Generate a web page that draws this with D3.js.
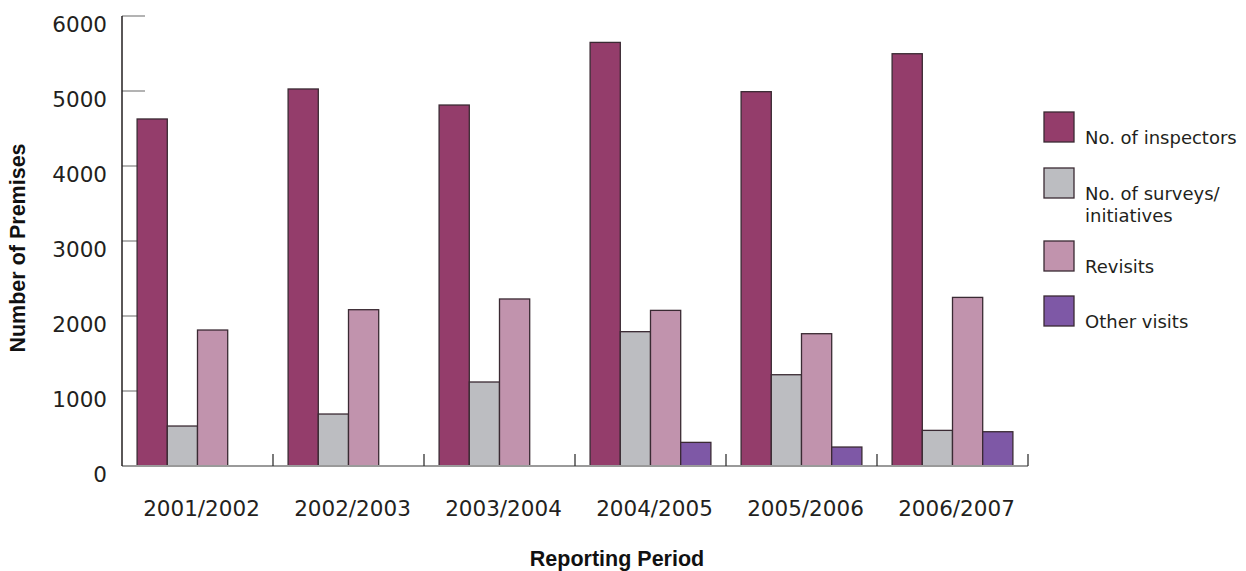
<!DOCTYPE html>
<html>
<head>
<meta charset="utf-8">
<script src="https://cdn.jsdelivr.net/npm/d3@7"></script>
<style>
  html, body { margin: 0; padding: 0; background: #fff; }
  svg { display: block; }
</style>
</head>
<body>
<svg id="chart" width="1246" height="571"></svg>
<script>
// Reporting periods along the x axis
const periods = ["2001/2002", "2002/2003", "2003/2004", "2004/2005", "2005/2006", "2006/2007"];

// Series names (legend order)
const seriesNames = ["No. of inspectors", "No. of surveys/initiatives", "Revisits", "Other visits"];

// Values per series, one per period
const inspectors = [4627, 5027, 4813, 5648, 4991, 5497];
const surveys    = [533, 693, 1120, 1791, 1217, 475];
const revisits   = [1813, 2084, 2227, 2075, 1764, 2248];
const otherVisits = [0, 0, 0, 315, 253, 457];

// Y axis ticks
const yTicks = [0, 1000, 2000, 3000, 4000, 5000, 6000];

const seriesValues = [inspectors, surveys, revisits, otherVisits];
const colors = ["#943d6b", "#bcbdc1", "#c193ad", "#7e58a6"];

const svg = d3.select("#chart");
const plotLeft = 122, plotRight = 1028, plotTop = 16, plotBottom = 466;

const y = d3.scaleLinear().domain([0, 6000]).range([plotBottom, plotTop]);
const x0 = d3.scaleBand().domain(periods).range([plotLeft, plotRight]).paddingInner(0).paddingOuter(0);
const x1 = d3.scaleBand().domain(d3.range(seriesNames.length))
  .range([0, x0.bandwidth()]).paddingInner(0).paddingOuter(0.5);

const tickFont = "'DejaVu Sans', sans-serif";

// Y tick marks (short grey stubs drawn under the bars)
svg.append("g").selectAll("line").data(yTicks).join("line")
  .attr("x1", plotLeft).attr("x2", plotLeft + 23)
  .attr("y1", d => y(d)).attr("y2", d => y(d))
  .attr("stroke", "#9a9a9a").attr("stroke-width", 1.5);

// Y tick labels
svg.append("g").selectAll("text").data(yTicks).join("text")
  .attr("x", 107).attr("y", d => y(d) + 16)
  .attr("text-anchor", "end")
  .attr("font-family", tickFont).attr("font-size", 21.5)
  .attr("fill", "#231f20")
  .text(d => d);

// Bars
const rows = periods.map((p, i) => ({ period: p, values: seriesValues.map(s => s[i]) }));
const groups = svg.append("g").selectAll("g").data(rows).join("g")
  .attr("transform", d => `translate(${x0(d.period)},0)`);
groups.selectAll("rect")
  .data(d => d.values.map((v, k) => ({ k, v })).filter(e => e.v > 0))
  .join("rect")
  .attr("x", e => x1(e.k))
  .attr("width", x1.bandwidth())
  .attr("y", e => y(e.v))
  .attr("height", e => y(0) - y(e.v))
  .attr("fill", e => colors[e.k])
  .attr("stroke", "#3a2a33").attr("stroke-width", 1.3);

// Baseline
svg.append("line")
  .attr("x1", plotLeft).attr("x2", plotRight).attr("y1", plotBottom).attr("y2", plotBottom)
  .attr("stroke", "#9a9a9a").attr("stroke-width", 2);

// Group separator ticks
svg.append("g").selectAll("line").data(periods).join("line")
  .attr("x1", d => x0(d) + x0.bandwidth()).attr("x2", d => x0(d) + x0.bandwidth())
  .attr("y1", plotBottom).attr("y2", plotBottom - 12)
  .attr("stroke", "#333").attr("stroke-width", 1.3);

// Y axis line
svg.append("line")
  .attr("x1", plotLeft).attr("x2", plotLeft).attr("y1", plotTop).attr("y2", plotBottom)
  .attr("stroke", "#231f20").attr("stroke-width", 1.5);

// Category labels
svg.append("g").selectAll("text").data(periods).join("text")
  .attr("x", d => x0(d) + x0.bandwidth() / 2 + 4)
  .attr("y", 516)
  .attr("text-anchor", "middle")
  .attr("font-family", tickFont).attr("font-size", 21.5)
  .attr("fill", "#231f20")
  .text(d => d);

// Axis titles
svg.append("text")
  .attr("x", 617).attr("y", 566)
  .attr("text-anchor", "middle")
  .attr("font-family", "'Liberation Sans', Arial, sans-serif")
  .attr("font-weight", "bold").attr("font-size", 21.5)
  .attr("fill", "#111")
  .text("Reporting Period");

svg.append("text")
  .attr("transform", "translate(25,248) rotate(-90)")
  .attr("text-anchor", "middle")
  .attr("font-family", "'Liberation Sans', Arial, sans-serif")
  .attr("font-weight", "bold").attr("font-size", 21.5)
  .attr("fill", "#111")
  .text("Number of Premises");

// Legend
const legendItems = [
  { k: 0, y: 112, lines: ["No. of inspectors"] },
  { k: 1, y: 168, lines: ["No. of surveys/", "initiatives"] },
  { k: 2, y: 241, lines: ["Revisits"] },
  { k: 3, y: 296, lines: ["Other visits"] }
];
const legend = svg.append("g");
legendItems.forEach(item => {
  legend.append("rect")
    .attr("x", 1044).attr("y", item.y).attr("width", 30).attr("height", 30)
    .attr("fill", colors[item.k]).attr("stroke", "#3a2a33").attr("stroke-width", 1.3);
  item.lines.forEach((line, j) => {
    legend.append("text")
      .attr("x", 1085).attr("y", item.y + 32 + j * 22)
      .attr("font-family", tickFont).attr("font-size", 18)
      .attr("fill", "#231f20")
      .text(line);
  });
});
</script>
</body>
</html>
